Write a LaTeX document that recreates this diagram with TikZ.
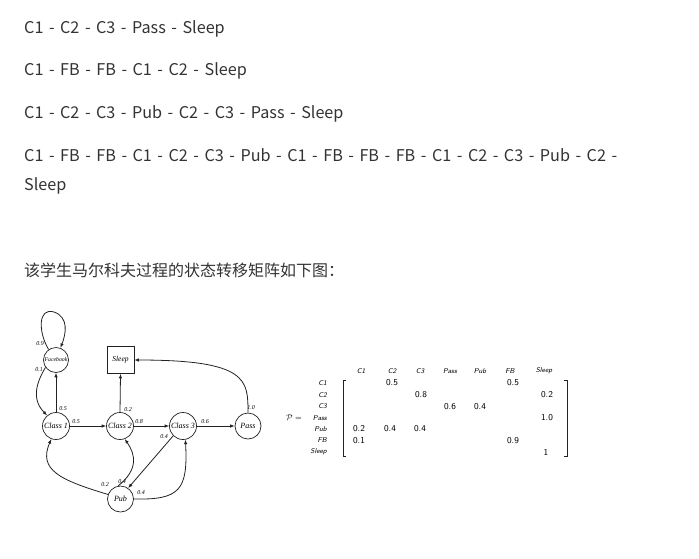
\documentclass[tikz,border=0pt]{standalone}
\usepackage{fontspec}
\setmainfont{Noto Sans CJK SC}
\newfontfamily\cjk[WordSpace=1.52]{Noto Sans CJK SC}
\newfontfamily\timesf{Liberation Serif}
\usetikzlibrary{arrows.meta}
\definecolor{txt}{HTML}{333333}
\definecolor{ln}{HTML}{222222}
\begin{document}
\begin{tikzpicture}[x=1pt,y=-1pt,
  body/.style={anchor=base west,inner sep=0pt,text=txt,font=\cjk\fontsize{16.2}{19}\selectfont},
  st/.style={circle,draw=ln,line width=0.7pt,minimum size=27pt,inner sep=0pt,font=\timesf\itshape\fontsize{8}{9}\selectfont},
  lab/.style={inner sep=0pt,font=\timesf\itshape\fontsize{6}{7}\selectfont},
  ed/.style={draw=ln,line width=0.8pt,-{Latex[length=4.5pt,width=3.5pt]}},
  mh/.style={inner sep=0pt,font=\sffamily\itshape\fontsize{7}{8}\selectfont},
  mv/.style={inner sep=0pt,font=\sffamily\fontsize{9}{10}\selectfont}
]
\useasboundingbox (0,0) rectangle (699,558);
\fill[white] (0,0) rectangle (699,558);
% body text
\node[body] (t1) at (24,33) {C1 - C2 - C3 - Pass - Sleep};
\node[body] (t2) at (24,75.5) {C1 - FB - FB - C1 - C2 - Sleep};
\node[body] (t3) at (24,118.5) {C1 - C2 - C3 - Pub - C2 - C3 - Pass - Sleep};
\node[body] (t4) at (24,161.5) {C1 - FB - FB - C1 - C2 - C3 - Pub - C1 - FB - FB - FB - C1 - C2 - C3 - Pub - C2 -};
\node[body] (t5) at (24,190) {Sleep};
\node[body,font=\cjk\fontsize{16}{19}\selectfont] (t6) at (24,276) {该学生马尔科夫过程的状态转移矩阵如下图：};
% diagram
\node[st,minimum size=25pt] (fb) at (56,360) {\fontsize{5.8}{6}\selectfont Facebook};
\node[draw=ln,line width=0.7pt,minimum size=27pt,inner sep=0pt,font=\timesf\itshape\fontsize{7.5}{8}\selectfont] (sl) at (120.5,360) {Sleep};
\node[st] (c1) at (56,426) {Class 1};
\node[st] (c2) at (120,426) {Class 2};
\node[st] (c3) at (183,426) {Class 3};
\node[st,minimum size=26pt] (ps) at (248,426) {Pass};
\node[st,minimum size=26pt] (pb) at (120.5,499) {Pub};
% edges
\draw[ed] (fb.125) .. controls (38,332) and (38,307) .. (54,312) .. controls (69,317) and (66,334) .. (fb.70);
\draw[ed] (fb.215) .. controls (38,380) and (30,398) .. (c1.130);
\draw[ed] (c1.north) -- (fb.south);
\draw[ed] (c1.east) -- (c2.west);
\draw[ed] (c2.north) -- (sl.south);
\draw[ed] (c2.east) -- (c3.west);
\draw[ed] (c3.east) -- (ps.west);
\draw[ed] (ps.north) .. controls (248,380) and (248,360) .. (sl.east);
\draw[ed] (c3.225) -- (pb.55);
\draw[ed] (pb.160) .. controls (60,480) and (38,470) .. (c1.250);
\draw[ed] (pb.100) .. controls (138,470) and (136,455) .. (c2.290);
\draw[ed] (pb.east) .. controls (180,500) and (188,490) .. (c3.280);
% edge labels
\node[lab] (l09) at (40,344) {0.9};
\node[lab] (l01) at (39,370) {0.1};
\node[lab] (l05a) at (63,409) {0.5};
\node[lab] (l05b) at (76,422) {0.5};
\node[lab] (l02a) at (128,410) {0.2};
\node[lab] (l08) at (139,422) {0.8};
\node[lab] (l04a) at (164,437) {0.4};
\node[lab] (l06) at (205,422) {0.6};
\node[lab] (l10) at (251,408) {1.0};
\node[lab] (l02b) at (105,485) {0.2};
\node[lab] (l04b) at (122,482) {0.4};
\node[lab] (l04c) at (141,493) {0.4};
% matrix
\node[inner sep=0pt,font=\fontsize{8.5}{9}\selectfont] (peq) at (294,418) {$\mathcal{P} =$};
\foreach \n/\x/\t in {h1/361/C1,h2/392/C2,h3/420/C3,h4/450/Pass,h5/480/Pub,h6/510/FB,h7/544/Sleep}
  \node[mh] (\n) at (\x,371) {\t};
\foreach \n/\y/\t in {r1/383/C1,r2/395/C2,r3/406.5/C3,r4/418/Pass,r5/429/Pub,r6/440.5/FB,r7/452/Sleep}
  \node[mh,anchor=east] (\n) at (327,\y) {\t};
\draw[ln,line width=0.6pt] (346,380) -- (343,380) -- (343,456) -- (346,456);
\draw[ln,line width=0.6pt] (564,380) -- (567,380) -- (567,456) -- (564,456);
\node[mv] (v12) at (392,383) {0.5};
\node[mv] (v16) at (513,383) {0.5};
\node[mv] (v23) at (421,395) {0.8};
\node[mv] (v27) at (547,395) {0.2};
\node[mv] (v34) at (450,406.5) {0.6};
\node[mv] (v35) at (480,406.5) {0.4};
\node[mv] (v47) at (547,418) {1.0};
\node[mv] (v51) at (359,429) {0.2};
\node[mv] (v52) at (390,429) {0.4};
\node[mv] (v53) at (420,429) {0.4};
\node[mv] (v61) at (359,440.5) {0.1};
\node[mv] (v66) at (513,440.5) {0.9};
\node[mv] (v77) at (546,452) {1};
\end{tikzpicture}
\end{document}
